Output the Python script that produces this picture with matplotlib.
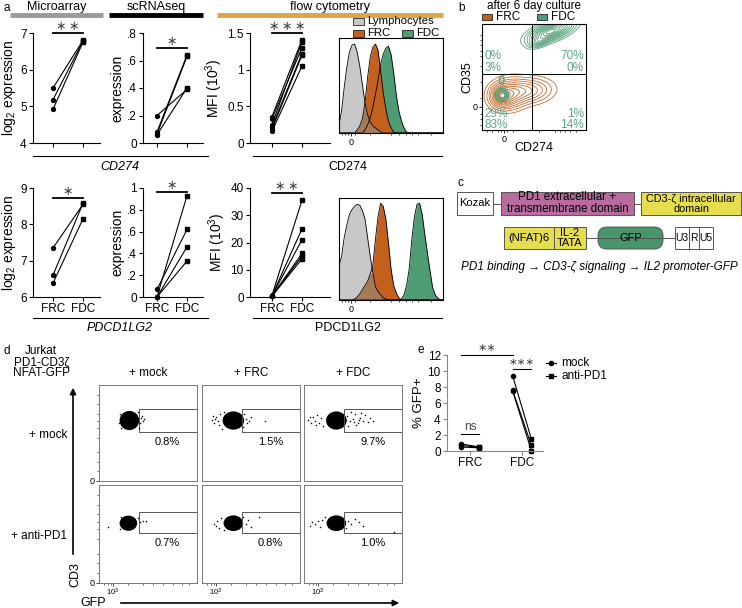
import numpy as np
import matplotlib.pyplot as plt
from matplotlib.patches import Rectangle, FancyBboxPatch, Ellipse

plt.rcParams['font.family'] = ['Liberation Sans', 'DejaVu Sans']
plt.rcParams['font.size'] = 8
plt.rcParams['mathtext.fontset'] = 'custom'
plt.rcParams['mathtext.rm'] = 'Liberation Sans'
plt.rcParams['mathtext.it'] = 'Liberation Sans:italic'
plt.rcParams['axes.linewidth'] = 0.8

W, H = 742, 608

FRC_COL = '#c4601d'
FDC_COL = '#4f9c73'
LYM_COL = '#c8c8c8'
MIX_COL = '#a67a55'
PCT_COL = '#5aa880'
STAR = '\u2217'

# ---------------- data ----------------
cats = ['FRC', 'FDC']

# a: paired values, FRC -> FDC per donor
micro_cd274_frc = [5.50, 5.18, 4.92]
micro_cd274_fdc = [6.80, 6.78, 6.75]
sc_cd274_frc = [0.20, 0.08, 0.065, 0.06]
sc_cd274_fdc = [0.39, 0.64, 0.63, 0.40]
mfi_cd274_frc = [0.36, 0.33, 0.25, 0.22, 0.19, 0.16]
mfi_cd274_fdc = [1.41, 1.30, 1.38, 1.22, 1.20, 1.05]
micro_pd_frc = [7.35, 6.60, 6.38]
micro_pd_fdc = [8.55, 8.58, 8.15]
sc_pd_frc = [0.0, 0.07, 0.0, 0.0]
sc_pd_fdc = [0.93, 0.62, 0.46, 0.33]
mfi_pd_frc = [0.6, 0.5, 0.5, 0.4, 0.4, 0.3]
mfi_pd_fdc = [35.5, 25.0, 21.0, 16.0, 15.0, 14.0]

# a: flow histograms (% of max) on a shared channel grid
hist_x = np.linspace(0, 100, 41)
cd274_lym = [8, 22, 45, 65, 80, 87, 88, 80, 66, 48, 30, 18, 11, 7, 5, 3, 1, 0] + [0] * 23
cd274_frc = [0] * 7 + [3, 7, 14, 30, 55, 75, 85, 88, 82, 62, 40, 24, 12, 5, 1] + [0] * 19
cd274_fdc = [0] * 10 + [3, 8, 15, 25, 38, 52, 68, 78, 84, 86, 78, 60, 38, 22, 12, 5, 1] + [0] * 14
pd_lym = [33, 42, 60, 72, 82, 87, 90, 92, 91, 86, 78, 60, 42, 27, 13, 8, 5, 2, 1] + [0] * 22
pd_frc = [0] * 6 + [1, 3, 6, 10, 14, 18, 25, 33, 58, 80, 93, 90, 78, 55, 30, 14, 7, 2] + [0] * 17
pd_fdc = [0] * 24 + [1, 5, 14, 30, 58, 80, 92, 93, 82, 63, 45, 28, 12, 5, 2] + [0] * 2

# b: populations (cx, cy, sx, sy, rho, weight) in scaled channel units
frc_pop = [(0.19, 0.32, 0.05, 0.05, 0.0, 1.0),
           (0.26, 0.34, 0.09, 0.07, 0.1, 0.7),
           (0.43, 0.37, 0.12, 0.06, 0.1, 0.45)]
fdc_pop_hi = [(0.66, 0.93, 0.10, 0.05, 0.6, 1.0),
              (0.55, 0.84, 0.05, 0.03, 0.5, 0.4)]
fdc_pop_lo = [(0.19, 0.33, 0.03, 0.03, 0.0, 1.0),
              (0.19, 0.47, 0.015, 0.025, 0.0, 0.3)]
b_pct = [('0%\n3%', 'UL'), ('70%\n0%', 'UR'), ('29%\n83%', 'LL'), ('1%\n14%', 'LR')]

# d: reporter dot plots
d_rows = ['+ mock', '+ anti-PD1']
d_cols = ['+ mock', '+ FRC', '+ FDC']
d_pct = [['0.8%', '1.5%', '9.7%'], ['0.7%', '0.8%', '1.0%']]
d_blobs = [[(0.31, 0.63, 0.20, 0.20), (0.32, 0.63, 0.22, 0.19), (0.33, 0.63, 0.21, 0.19)],
           [(0.30, 0.61, 0.18, 0.155), (0.32, 0.61, 0.20, 0.16), (0.33, 0.61, 0.20, 0.16)]]
d_dots = [
    [[(0.43, 0.66), (0.45, 0.63), (0.44, 0.68), (0.42, 0.60), (0.20, 0.60), (0.21, 0.70), (0.46, 0.65),
      (0.22, 0.55), (0.40, 0.72), (0.41, 0.55)],
     [(0.10, 0.64), (0.12, 0.60), (0.14, 0.67), (0.16, 0.62), (0.13, 0.65), (0.18, 0.70), (0.17, 0.58),
      (0.11, 0.68), (0.45, 0.65), (0.48, 0.62), (0.50, 0.67), (0.43, 0.70), (0.46, 0.60), (0.64, 0.63),
      (0.20, 0.54), (0.42, 0.56), (0.22, 0.72)],
     [(0.04, 0.64), (0.07, 0.60), (0.09, 0.67), (0.11, 0.63), (0.13, 0.69), (0.15, 0.60), (0.17, 0.66),
      (0.06, 0.67), (0.19, 0.57), (0.12, 0.58), (0.44, 0.68), (0.47, 0.62), (0.50, 0.65), (0.52, 0.70),
      (0.55, 0.60), (0.57, 0.66), (0.60, 0.63), (0.62, 0.69), (0.65, 0.61), (0.48, 0.72), (0.53, 0.58),
      (0.58, 0.71), (0.67, 0.66), (0.70, 0.62), (0.45, 0.57), (0.51, 0.61), (0.56, 0.64), (0.43, 0.64)]],
    [[(0.09, 0.57), (0.42, 0.62), (0.45, 0.63), (0.48, 0.63), (0.21, 0.55), (0.40, 0.66), (0.22, 0.67)],
     [(0.12, 0.60), (0.15, 0.63), (0.17, 0.56), (0.19, 0.66), (0.45, 0.60), (0.47, 0.64), (0.50, 0.57),
      (0.58, 0.67), (0.14, 0.58), (0.42, 0.67), (0.22, 0.54)],
     [(0.06, 0.58), (0.08, 0.62), (0.11, 0.60), (0.14, 0.63), (0.16, 0.57), (0.18, 0.64), (0.45, 0.63),
      (0.48, 0.60), (0.52, 0.65), (0.56, 0.62), (0.60, 0.58), (0.92, 0.52), (0.21, 0.67), (0.43, 0.56)]],
]

# e: % GFP+ (mock -> anti-PD1 per replicate)
e_mock_frc = [0.9, 0.7, 0.5]
e_anti_frc = [0.5, 0.45, 0.4]
e_mock_fdc = [9.4, 7.6, 7.5]
e_anti_fdc = [1.5, 0.7, 0.05]

# ---------------- figure ----------------
fig = plt.figure(figsize=(W / 100, H / 100), dpi=100)


def ax_px(x0, y0, x1, y1):
    return fig.add_axes([x0 / W, 1 - y1 / H, (x1 - x0) / W, (y1 - y0) / H])


ov = fig.add_axes([0, 0, 1, 1], zorder=5)
ov.set_xlim(0, W)
ov.set_ylim(H, 0)
ov.axis('off')
ov.patch.set_visible(False)


def style(ax):
    for s in ['top', 'right']:
        ax.spines[s].set_visible(False)
    ax.tick_params(direction='out', length=3, width=0.8, labelsize=8.5, pad=1.5)


def stars(n, sep=''):
    return sep.join([STAR] * n)


def paired(box, xlim, frc, fdc, ylim, ticks, labels, ylabel, sig, sig_y, xlabels):
    ax = ax_px(*box)
    for a, b in zip(frc, fdc):
        ax.plot([0, 1], [a, b], color='black', lw=0.8)
    ax.plot([0] * len(frc), frc, 'o', ms=2.8, color='black', clip_on=False)
    ax.plot([1] * len(fdc), fdc, 's', ms=2.8, color='black', clip_on=False)
    ax.set_xlim(*xlim)
    ax.set_ylim(*ylim)
    ax.set_yticks(ticks)
    ax.set_yticklabels(labels)
    ax.set_xticks([0, 1])
    ax.set_xticklabels(cats if xlabels else [])
    ax.set_ylabel(ylabel, fontsize=10, labelpad=1.5)
    style(ax)
    ax.plot([0, 1], [sig_y, sig_y], color='black', lw=1.3, clip_on=False)
    ax.text(0.5, sig_y, sig, ha='center', va='bottom', fontsize=9, color='#444444')
    return ax


def histo(box, lym, frc, fdc, ymax):
    ax = ax_px(*box)
    lym = np.array(lym, float)
    frc = np.array(frc, float)
    fdc = np.array(fdc, float)
    ax.fill_between(hist_x, fdc, color=FDC_COL, lw=0)
    ax.fill_between(hist_x, frc, color=FRC_COL, lw=0)
    ax.fill_between(hist_x, lym, color=LYM_COL, lw=0)
    ax.fill_between(hist_x, np.minimum(lym, frc), color=MIX_COL, lw=0)
    for c in (fdc, frc, lym):
        ax.plot(hist_x, c, color='black', lw=0.6)
    ax.set_xlim(0, 100)
    ax.set_ylim(0, ymax)
    ax.set_yticks([])
    ax.set_xticks([12])
    ax.set_xticklabels(['0'], fontsize=6.5)
    ax.set_xticks([3, 6, 9, 15, 30, 50, 58, 64, 70, 76, 88], minor=True)
    ax.tick_params(axis='x', length=2.5, width=0.6, pad=1)
    ax.tick_params(axis='x', which='minor', length=1.5, width=0.5)
    return ax


# ---- panel a, headers ----
ov.text(3, 8, 'a', ha='left', va='center', fontsize=8.5)
ov.text(57, 7, 'Microarray', ha='center', va='center', fontsize=9)
ov.text(156, 7, 'scRNAseq', ha='center', va='center', fontsize=9)
ov.text(330, 7, 'flow cytometry', ha='center', va='center', fontsize=9)
ov.plot([10, 103], [14.5, 14.5], color='#9a9a9a', lw=3.5, solid_capstyle='butt')
ov.plot([109, 203], [14.5, 14.5], color='black', lw=3.5, solid_capstyle='butt')
ov.plot([217, 443], [14.5, 14.5], color='#dba445', lw=3.5, solid_capstyle='butt')

log2 = 'log$_2$ expression'
mfi = 'MFI (10$^3$)'
gap = '\u2009'

paired((33, 33, 100, 143), (-0.667, 1.567), micro_cd274_frc, micro_cd274_fdc, (4, 7),
       [4, 5, 6, 7], ['4', '5', '6', '7'], log2, stars(2, gap), 7.0, False)
paired((143, 33, 203, 143), (-0.467, 1.533), sc_cd274_frc, sc_cd274_fdc, (0, 0.8),
       [0, 0.2, 0.4, 0.6, 0.8], ['0', '.2', '.4', '.6', '.8'], 'expression', stars(1), 0.69, False)
paired((250, 33, 330, 143), (-0.733, 1.933), mfi_cd274_frc, mfi_cd274_fdc, (0, 1.5),
       [0, 0.5, 1, 1.5], ['0', '0.5', '1', '1.5'], mfi, stars(3, gap), 1.5, False)
paired((33, 188, 100, 297), (-0.667, 1.567), micro_pd_frc, micro_pd_fdc, (6, 9),
       [6, 7, 8, 9], ['6', '7', '8', '9'], log2, stars(1), 8.72, True)
paired((143, 188, 203, 297), (-0.467, 1.533), sc_pd_frc, sc_pd_fdc, (0, 1),
       [0, 0.2, 0.4, 0.6, 0.8, 1], ['0', '.2', '.4', '.6', '.8', '1'], 'expression', stars(1), 0.96, True)
paired((250, 188, 330, 297), (-0.733, 1.933), mfi_pd_frc, mfi_pd_fdc, (0, 40),
       [0, 10, 20, 30, 40], ['0', '10', '20', '30', '40'], mfi, stars(2, gap), 38.2, True)

histo((339, 38, 443, 133), cd274_lym, cd274_frc, cd274_fdc, 94)
histo((339, 198, 443, 300), pd_lym, pd_frc, pd_fdc, 98)

# histogram legend
for (x, y, col, lab) in [(353, 21.5, LYM_COL, 'Lymphocytes'), (353, 33, FRC_COL, 'FRC'),
                         (402, 33, FDC_COL, 'FDC')]:
    ov.add_patch(Rectangle((x, y - 3.5), 11, 7, facecolor=col, edgecolor='black', lw=0.5))
    ov.text(x + 14, y, lab, ha='left', va='center', fontsize=8.2)

# gene labels under the rows
for y_line, y_txt, gene in [(156, 167, 'CD274'), (318, 328, 'PDCD1LG2')]:
    ov.plot([33, 208], [y_line, y_line], color='black', lw=0.8)
    ov.plot([253, 442], [y_line, y_line], color='black', lw=0.8)
    ov.text(120, y_txt, gene, ha='center', va='center', fontsize=9, style='italic')
    ov.text(348, y_txt, gene, ha='center', va='center', fontsize=9)

# ---- panel b ----
ov.text(458, 8, 'b', ha='left', va='center', fontsize=8.5)
ov.text(534, 6, 'after 6 day culture', ha='center', va='center', fontsize=8.5)
for (x, col, lab) in [(482, FRC_COL, 'FRC'), (537, FDC_COL, 'FDC')]:
    ov.add_patch(Rectangle((x, 14), 10, 6, facecolor=col, edgecolor='black', lw=0.5))
    ov.text(x + 14, 17, lab, ha='left', va='center', fontsize=8.5)

axb = ax_px(482, 24, 586, 130)
gx = np.linspace(0, 1, 201)
GX, GY = np.meshgrid(gx, gx)


def density(pop):
    d = np.zeros_like(GX)
    for cx, cy, sx, sy, rho, w in pop:
        u = (GX - cx) / sx
        v = (GY - cy) / sy
        d += w * np.exp(-(u * u - 2 * rho * u * v + v * v) / (2 * (1 - rho * rho)))
    return d


fr = np.array([0.015, 0.04, 0.08, 0.13, 0.2, 0.28, 0.37, 0.47, 0.58, 0.7, 0.82, 0.92])
d_frc = density(frc_pop)
axb.contour(GX, GY, d_frc, levels=fr * d_frc.max(), colors=FRC_COL, linewidths=0.55)
d_hi = density(fdc_pop_hi)
axb.contour(GX, GY, d_hi, levels=fr * d_hi.max(), colors=FDC_COL, linewidths=0.55)
d_lo = density(fdc_pop_lo)
axb.contour(GX, GY, d_lo, levels=np.array([0.1, 0.3, 0.6]) * d_lo.max(), colors=FDC_COL, linewidths=0.9)
axb.axvline(0.48, color='black', lw=0.7)
axb.axhline(0.53, color='black', lw=0.7)
axb.set_xlim(0, 1)
axb.set_ylim(0, 1)
axb.set_xticks([0.21])
axb.set_xticklabels(['0'], fontsize=6.5)
axb.set_yticks([0.22])
axb.set_yticklabels(['0'], fontsize=6.5)
axb.set_xticks([0.05, 0.1, 0.15, 0.18, 0.24, 0.3, 0.55, 0.7, 0.75, 0.8, 0.85, 0.9], minor=True)
axb.set_yticks([0.05, 0.1, 0.15, 0.3, 0.45, 0.6, 0.7, 0.75, 0.8, 0.85, 0.9], minor=True)
axb.tick_params(length=2.5, width=0.6, pad=1)
axb.tick_params(which='minor', length=1.5, width=0.5)
axb.set_xlabel('CD274', fontsize=9, labelpad=-1)
axb.set_ylabel('CD35', fontsize=9, labelpad=-1)
pos = {'UL': (0.02, 0.64, 'left'), 'UR': (0.98, 0.64, 'right'),
       'LL': (0.02, 0.10, 'left'), 'LR': (0.98, 0.10, 'right')}
for txt, q in b_pct:
    x, y, ha = pos[q]
    axb.text(x, y, txt, transform=axb.transAxes, ha=ha, va='center', color=PCT_COL,
             fontsize=8.5, linespacing=0.95)

# ---- panel c ----
ov.text(458, 183, 'c', ha='left', va='center', fontsize=8.5)


def box(x0, x1, y0, y1, fc, txt, fs=8):
    ov.add_patch(Rectangle((x0, y0), x1 - x0, y1 - y0, facecolor=fc, edgecolor='#555555', lw=0.7))
    ov.text((x0 + x1) / 2, (y0 + y1) / 2, txt, ha='center', va='center', fontsize=fs, linespacing=1.0)


ov.plot([493, 501], [203.5, 203.5], color='#555555', lw=0.7)
ov.plot([634, 641], [203.5, 203.5], color='#555555', lw=0.7)
box(457, 493, 192, 215, 'white', 'Kozak', 8)
box(501, 634, 192, 215, '#b96a9f', 'PD1 extracellular +\ntransmembrane domain', 8.3)
box(641, 741, 192, 215, '#e6de4e', 'CD3-\u03b6 intracellular\ndomain', 7.8)
ov.plot([586, 675], [238, 238], color='#555555', lw=0.7)
box(504, 554, 227, 249, '#e6de4e', '(NFAT)6')
box(554, 586, 227, 249, '#e6de4e', 'IL-2\nTATA')
ov.add_patch(FancyBboxPatch((598, 227), 65, 22, boxstyle='round,pad=0,rounding_size=9',
                            facecolor='#46966a', edgecolor='#555555', lw=0.7))
ov.text(630.5, 238, 'GFP', ha='center', va='center', fontsize=8)
box(675, 689, 227, 249, 'white', 'U3', 7.5)
box(689, 699, 227, 249, 'white', 'R', 7.5)
box(699, 713, 227, 249, 'white', 'U5', 7.5)
ov.text(599, 267, 'PD1 binding \u2192 CD3-\u03b6 signaling \u2192 IL2 promoter-GFP', ha='center',
        va='center', fontsize=8.5, style='italic')

# ---- panel d ----
ov.text(4, 351, 'd', ha='left', va='center', fontsize=8.5)
ov.text(41, 351, 'Jurkat', ha='center', va='center', fontsize=8.5)
ov.text(42, 362, 'PD1-CD3\u03b6', ha='center', va='center', fontsize=8.5)
ov.text(41, 373, 'NFAT-GFP', ha='center', va='center', fontsize=8.5)

col_x = [(99, 197), (202, 300), (304, 402)]
row_y = [(385, 481), (485, 583)]
gate_y = [(0.51, 0.75), (0.51, 0.72)]
for j, (x0, x1) in enumerate(col_x):
    ov.text((x0 + x1) / 2, 373, d_cols[j], ha='center', va='center', fontsize=8.5)
for i, (y0, y1) in enumerate(row_y):
    ov.text(67, (y0 + y1) / 2 + 2, d_rows[i], ha='right', va='center', fontsize=8.5)
    for j, (x0, x1) in enumerate(col_x):
        ax = ax_px(x0, y0, x1, y1)
        for s in ax.spines.values():
            s.set_color('#777777')
            s.set_linewidth(0.7)
        cx, cy, w, h = d_blobs[i][j]
        ax.add_patch(Ellipse((cx, cy), w, h, facecolor='black', edgecolor='none'))
        dx, dy = zip(*d_dots[i][j])
        ax.plot(dx, dy, 's', ms=1.0, color='black', mew=0)
        g0, g1 = gate_y[i]
        ax.add_patch(Rectangle((0.41, g0), 0.6, g1 - g0, facecolor='none', edgecolor='#555555', lw=0.7))
        ax.text(0.7, 0.41, d_pct[i][j], ha='center', va='center', fontsize=8)
        ax.set_xlim(0, 1)
        ax.set_ylim(0, 1)
        ax.tick_params(length=2, width=0.5, pad=1, colors='black')
        ax.tick_params(which='minor', length=1.2, width=0.4)
        if j == 0:
            ax.set_yticks([0])
            ax.set_yticklabels(['0'], fontsize=6.5)
            ax.set_yticks([0.1, 0.2, 0.3, 0.45, 0.55, 0.62, 0.7, 0.8, 0.9], minor=True)
        else:
            ax.set_yticks([])
        if i == 1:
            ax.set_xticks([0.14])
            ax.set_xticklabels(['10$^3$'], fontsize=5.5)
            ax.set_xticks([0.05, 0.09, 0.12, 0.3, 0.45, 0.55, 0.65, 0.75, 0.85, 0.92], minor=True)
        else:
            ax.set_xticks([])

ov.annotate('', xy=(73, 385), xytext=(73, 557),
            arrowprops=dict(arrowstyle='-|>', lw=1.2, color='black', mutation_scale=9))
ov.text(75, 575, 'CD3', rotation=90, ha='center', va='center', fontsize=9)
ov.text(93, 603, 'GFP', ha='center', va='center', fontsize=9)
ov.annotate('', xy=(402, 603), xytext=(118, 603),
            arrowprops=dict(arrowstyle='-|>', lw=1.2, color='black', mutation_scale=9))

# ---- panel e ----
ov.text(417, 350, 'e', ha='left', va='center', fontsize=8.5)
axe = ax_px(447, 355, 543, 451)
off = 0.18
for k, (mock, anti) in enumerate([(e_mock_frc, e_anti_frc), (e_mock_fdc, e_anti_fdc)]):
    for a, b in zip(mock, anti):
        axe.plot([k - off, k + off], [a, b], color='black', lw=0.8)
    axe.plot([k - off] * len(mock), mock, 'o', ms=3, color='black', clip_on=False)
    axe.plot([k + off] * len(anti), anti, 's', ms=3, color='black', clip_on=False)
axe.set_xlim(-0.442, 1.404)
axe.set_ylim(0, 12)
axe.set_yticks(range(0, 13, 2))
axe.set_xticks([0, 1])
axe.set_xticklabels(cats)
axe.set_ylabel('% GFP+', fontsize=9.5, labelpad=2)
style(axe)
for s in ['left', 'bottom']:
    axe.spines[s].set_color('#888888')
axe.tick_params(color='#888888')
for (xa, xb, y, txt, fs) in [(-off, 1 - off, 12.0, stars(2), 8), (1 - off, 1 + off, 10.3, stars(3), 7.5),
                             (-off, off, 2.1, 'ns', 8.5)]:
    axe.plot([xa, xb], [y, y], color='black', lw=0.8, clip_on=False)
    axe.text((xa + xb) / 2, y + 0.2, txt, ha='center', va='bottom', fontsize=fs, color='#444444')

for (y, mk, lab) in [(363, 'o', 'mock'), (376, 's', 'anti-PD1')]:
    ov.plot([546, 556], [y, y], color='black', lw=0.8)
    ov.plot([551], [y], mk, ms=3, color='black')
    ov.text(561, y, lab, ha='left', va='center', fontsize=8.5)

fig.savefig('out.png', dpi=100)
